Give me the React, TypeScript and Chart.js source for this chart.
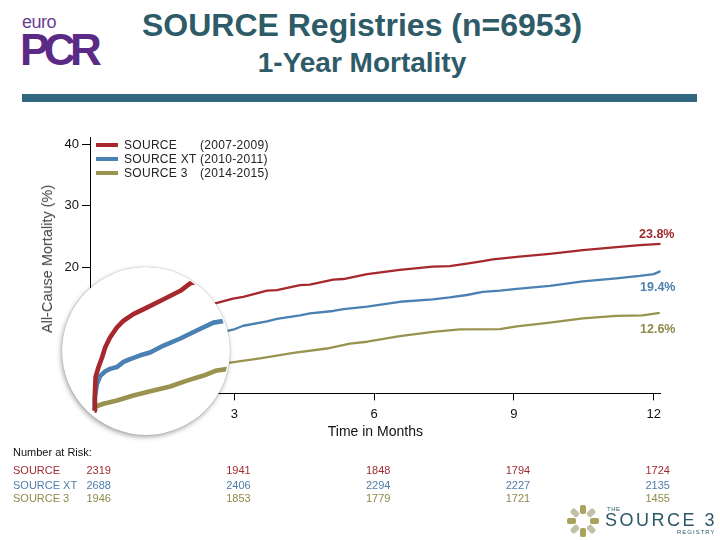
import React, { useEffect, useRef } from "react";
import { Chart, registerables } from "chart.js";

Chart.register(...registerables);

const FONT = '"Liberation Sans", Arial, Helvetica, sans-serif';

// ---------- data ----------
const seriesNames = ["SOURCE", "SOURCE XT", "SOURCE 3"];
const seriesPeriods = ["(2007-2009)", "(2010-2011)", "(2014-2015)"];
const seriesColors = ["#A6282D", "#4A80B2", "#99934F"];
const labelColors = ["#9E2A2F", "#4F7EA8", "#8E8A4A"];
const finalLabels = ["23.8%", "19.4%", "12.6%"];

const sourceMonths = [0, 0.005, 0.02, 0.08, 0.16, 0.23, 0.33, 0.48, 0.62, 0.83, 1.12, 1.48, 1.84, 2.05, 2.59, 2.97, 3.19, 3.7, 3.91, 4.41, 4.62, 5.12, 5.34, 5.85, 6.55, 7.26, 7.62, 7.99, 8.33, 8.55, 9.06, 9.77, 10.48, 11.2, 11.7, 12.15];
const sourceMortality = [0, 1.8, 3.6, 4.6, 5.7, 6.8, 7.8, 8.9, 9.6, 10.3, 11.0, 11.9, 12.8, 13.6, 14.15, 14.9, 15.2, 16.2, 16.3, 17.1, 17.2, 18.0, 18.1, 18.9, 19.6, 20.1, 20.2, 20.6, 21.0, 21.3, 21.7, 22.2, 22.8, 23.3, 23.6, 23.8];

const xtMonths = [0, 0.003, 0.05, 0.12, 0.23, 0.33, 0.48, 0.62, 0.76, 0.98, 1.19, 1.48, 1.84, 2.19, 2.55, 2.8, 2.97, 3.19, 3.7, 3.91, 4.41, 4.62, 5.12, 5.34, 5.85, 6.55, 7.26, 7.62, 7.99, 8.33, 8.7, 9.06, 9.77, 10.48, 11.2, 11.7, 12.0, 12.15];
const xtMortality = [0, 1.4, 2.85, 3.7, 4.2, 4.45, 4.65, 5.2, 5.5, 5.9, 6.2, 6.95, 7.7, 8.55, 9.4, 9.6, 9.85, 10.5, 11.2, 11.6, 12.2, 12.5, 12.9, 13.2, 13.6, 14.4, 14.8, 15.1, 15.5, 16.0, 16.2, 16.5, 17.0, 17.7, 18.2, 18.6, 18.9, 19.4];

const s3Months = [0, 0.005, 0.19, 0.48, 0.83, 1.26, 1.62, 1.98, 2.34, 2.62, 2.87, 3.55, 4.27, 4.98, 5.48, 5.85, 6.55, 7.26, 7.84, 8.7, 9.06, 9.77, 10.48, 11.2, 11.76, 12.13];
const s3Mortality = [0, 0.4, 0.72, 1.07, 1.6, 2.14, 2.57, 3.2, 3.74, 4.28, 4.45, 5.2, 6.1, 6.8, 7.6, 7.9, 8.8, 9.5, 9.9, 9.95, 10.4, 11.0, 11.7, 12.1, 12.2, 12.6];

const xTicks = [3, 6, 9, 12];
const yTicks = [20, 30, 40];

const riskMonths = [0, 3, 6, 9, 12];
const riskSource = [2319, 1941, 1848, 1794, 1724];
const riskSourceXT = [2688, 2406, 2294, 2227, 2135];
const riskSource3 = [1946, 1853, 1779, 1721, 1455];

// ---------- layout ----------
const AREA_LEFT = 90;
const AREA_RIGHT = 660.7;
const AREA_TOP = 137;
const AREA_BOTTOM = 393.4;
const X_AXIS_H = 47;
const X_MIN = -0.1;
const X_MAX = 12.15;
const Y_MIN = -0.5;
const Y_MAX = 41.19;
const INSET_BOTTOM = 440;
const INSET_Y_MIN = -3.155;
const INSET_Y_MAX = 29.25;
const CIRCLE_CX = 145.5;
const CIRCLE_CY = 351;
const CIRCLE_R = 84;

const monthToPx = (m: number) =>
  AREA_LEFT + ((m - X_MIN) / (X_MAX - X_MIN)) * (AREA_RIGHT - AREA_LEFT);

function makeSeries(width: number) {
  const all = [
    [sourceMonths, sourceMortality],
    [xtMonths, xtMortality],
    [s3Months, s3Mortality],
  ];
  return all.map(([xs, ys], i) => ({
    label: seriesNames[i],
    data: xs.map((x, k) => ({ x, y: ys[k] })),
    borderColor: seriesColors[i],
    backgroundColor: seriesColors[i],
    borderWidth: width,
    pointRadius: 0,
    tension: 0,
    fill: false,
    borderJoinStyle: "round" as const,
  }));
}

export default function App() {
  const mainRef = useRef<HTMLCanvasElement | null>(null);
  const insetRef = useRef<HTMLCanvasElement | null>(null);

  useEffect(() => {
    if (!mainRef.current || !insetRef.current) return;
    const tickFont = { family: FONT, size: 13 };
    const main = new Chart(mainRef.current, {
      type: "line",
      data: { datasets: makeSeries(2.3) as any },
      options: {
        responsive: false,
        animation: false,
        events: [],
        layout: {
          padding: { left: 0, right: 720 - AREA_RIGHT, top: AREA_TOP, bottom: 540 - AREA_BOTTOM - X_AXIS_H },
        },
        plugins: { legend: { display: false }, tooltip: { enabled: false } },
        scales: {
          x: {
            type: "linear",
            min: X_MIN,
            max: X_MAX,
            afterBuildTicks: (s: any) => {
              s.ticks = xTicks.map((v) => ({ value: v }));
            },
            afterFit: (s: any) => {
              s.height = X_AXIS_H;
              s.paddingLeft = 0;
              s.paddingRight = 0;
            },
            grid: { drawOnChartArea: false, drawTicks: true, tickLength: 7, color: "#000", lineWidth: 1 },
            border: { display: true, color: "#000", width: 1 },
            ticks: { font: tickFont, color: "#111", padding: 6, maxRotation: 0 },
            title: {
              display: true,
              text: "Time in Months",
              font: { family: FONT, size: 14 },
              color: "#111",
              padding: { top: 0, bottom: 0 },
            },
          },
          y: {
            type: "linear",
            min: Y_MIN,
            max: Y_MAX,
            afterBuildTicks: (s: any) => {
              s.ticks = yTicks.map((v) => ({ value: v }));
            },
            afterFit: (s: any) => {
              s.width = AREA_LEFT;
              s.paddingTop = 0;
              s.paddingBottom = 0;
            },
            grid: { drawOnChartArea: false, drawTicks: true, tickLength: 8, color: "#000", lineWidth: 1 },
            border: { display: true, color: "#000", width: 1 },
            ticks: { font: tickFont, color: "#111", padding: 3 },
          },
        },
      } as any,
    });

    const inset = new Chart(insetRef.current, {
      type: "line",
      data: { datasets: makeSeries(4.6) as any },
      options: {
        responsive: false,
        animation: false,
        events: [],
        layout: {
          padding: { left: AREA_LEFT, right: 720 - AREA_RIGHT, top: AREA_TOP, bottom: 540 - INSET_BOTTOM },
        },
        plugins: { legend: { display: false }, tooltip: { enabled: false } },
        scales: {
          x: { type: "linear", min: X_MIN, max: X_MAX, display: false },
          y: { type: "linear", min: INSET_Y_MIN, max: INSET_Y_MAX, display: false },
        },
      } as any,
    });

    return () => {
      main.destroy();
      inset.destroy();
    };
  }, []);

  const riskRows = [riskSource, riskSourceXT, riskSource3];
  const riskRowY = [470, 484.5, 498];
  const legendRowY = [144.5, 159, 173.3];
  const finalLabelPos = [
    { left: 639, top: 234 },
    { left: 640, top: 287 },
    { left: 640, top: 328.5 },
  ];

  const petals = [0, 45, 90, 135, 180, 225, 270, 315];

  return (
    <div
      style={{
        position: "absolute",
        left: 0,
        top: 0,
        width: 720,
        height: 540,
        background: "#fff",
        overflow: "hidden",
        fontFamily: FONT,
      }}
    >
      {/* euroPCR logo */}
      <div style={{ position: "absolute", left: 22, top: 13, fontSize: 18, color: "#6A3D93", lineHeight: "18px", letterSpacing: -0.5 }}>
        euro
      </div>
      <div
        style={{
          position: "absolute",
          left: 20,
          top: 28,
          fontSize: 44,
          fontWeight: 700,
          color: "#5B2A86",
          lineHeight: "44px",
          letterSpacing: -5.5,
        }}
      >
        PCR
      </div>

      {/* titles */}
      <div
        style={{
          position: "absolute",
          left: 0,
          width: 720,
          top: 6,
          textAlign: "center",
          fontSize: 32,
          fontWeight: 700,
          color: "#2E5B68",
          lineHeight: "38px",
          paddingLeft: 2,
          whiteSpace: "nowrap",
        }}
      >
        SOURCE Registries (n=6953)
      </div>
      <div
        style={{
          position: "absolute",
          left: 0,
          width: 720,
          top: 47,
          textAlign: "center",
          fontSize: 28,
          fontWeight: 700,
          color: "#2E5B68",
          lineHeight: "32px",
          paddingLeft: 2,
          whiteSpace: "nowrap",
        }}
      >
        1-Year Mortality
      </div>
      <div style={{ position: "absolute", left: 22, top: 94, width: 675, height: 8, background: "#33677F" }} />

      {/* charts */}
      <canvas ref={mainRef} width={720} height={540} style={{ position: "absolute", left: 0, top: 0 }} />
      <div
        style={{
          position: "absolute",
          left: CIRCLE_CX - CIRCLE_R,
          top: CIRCLE_CY - CIRCLE_R,
          width: CIRCLE_R * 2,
          height: CIRCLE_R * 2,
          borderRadius: "50%",
          background: "#fff",
          boxShadow: "-1px 2px 5px rgba(0,0,0,0.35), 0 0 1px rgba(0,0,0,0.4)",
        }}
      />
      <canvas
        ref={insetRef}
        width={720}
        height={540}
        style={{
          position: "absolute",
          left: 0,
          top: 0,
          clipPath: `circle(${CIRCLE_R - 1}px at ${CIRCLE_CX}px ${CIRCLE_CY}px)`,
        }}
      />

      {/* y-axis title */}
      <div style={{ position: "absolute", left: 47, top: 259, width: 0, height: 0 }}>
        <div
          style={{
            position: "absolute",
            transform: "translate(-50%, -50%) rotate(-90deg)",
            whiteSpace: "nowrap",
            fontSize: 14.5,
            color: "#444",
            left: 0,
            top: 0,
          }}
        >
          All-Cause Mortality (%)
        </div>
      </div>

      {/* legend */}
      {seriesNames.map((name, i) => (
        <React.Fragment key={name}>
          <div
            style={{
              position: "absolute",
              left: 96,
              top: legendRowY[i] - 2,
              width: 22,
              height: 4,
              background: seriesColors[i],
            }}
          />
          <div
            style={{
              position: "absolute",
              left: 124,
              top: legendRowY[i] - 8,
              fontSize: 12,
              lineHeight: "16px",
              color: "#222",
              whiteSpace: "nowrap",
              letterSpacing: 0.3,
            }}
          >
            {name}
          </div>
          <div
            style={{
              position: "absolute",
              left: 200,
              top: legendRowY[i] - 8,
              fontSize: 12,
              lineHeight: "16px",
              color: "#222",
              whiteSpace: "nowrap",
              letterSpacing: 0.3,
            }}
          >
            {seriesPeriods[i]}
          </div>
        </React.Fragment>
      ))}

      {/* end labels */}
      {finalLabels.map((t, i) => (
        <div
          key={t}
          style={{
            position: "absolute",
            left: finalLabelPos[i].left,
            top: finalLabelPos[i].top - 8,
            fontSize: 12.5,
            lineHeight: "16px",
            fontWeight: 700,
            color: labelColors[i],
            whiteSpace: "nowrap",
          }}
        >
          {t}
        </div>
      ))}

      {/* number at risk */}
      <div style={{ position: "absolute", left: 13, top: 445, fontSize: 11, lineHeight: "14px", color: "#111" }}>
        Number at Risk:
      </div>
      {riskRows.map((row, r) => (
        <React.Fragment key={r}>
          <div
            style={{
              position: "absolute",
              left: 13,
              top: riskRowY[r] - 7,
              fontSize: 11,
              lineHeight: "14px",
              color: labelColors[r],
              whiteSpace: "nowrap",
            }}
          >
            {seriesNames[r]}
          </div>
          {row.map((v, c) => (
            <div
              key={c}
              style={{
                position: "absolute",
                left: monthToPx(riskMonths[c]) + 4 - 20,
                width: 40,
                textAlign: "center",
                top: riskRowY[r] - 7,
                fontSize: 11,
                lineHeight: "14px",
                color: labelColors[r],
              }}
            >
              {v}
            </div>
          ))}
        </React.Fragment>
      ))}

      {/* SOURCE 3 registry logo */}
      <div style={{ position: "absolute", left: 583, top: 521, width: 0, height: 0 }}>
        {petals.map((a, i) => (
          <div
            key={a}
            style={{
              position: "absolute",
              left: -3,
              top: -16,
              width: 6,
              height: 9,
              borderRadius: 2,
              background: i % 2 === 0 ? "#A7A35A" : "#C2C1A8",
              transformOrigin: "3px 16px",
              transform: `rotate(${a}deg)`,
            }}
          />
        ))}
      </div>
      <div style={{ position: "absolute", left: 607, top: 506, fontSize: 6, color: "#2C5866", letterSpacing: 0.5 }}>THE</div>
      <div
        style={{
          position: "absolute",
          left: 605,
          top: 510,
          fontSize: 18,
          lineHeight: "20px",
          color: "#2C5866",
          letterSpacing: 2.5,
          whiteSpace: "nowrap",
        }}
      >
        SOURCE 3
      </div>
      <div style={{ position: "absolute", left: 677, top: 529, fontSize: 6, color: "#2C5866", letterSpacing: 1 }}>REGISTRY</div>
    </div>
  );
}
